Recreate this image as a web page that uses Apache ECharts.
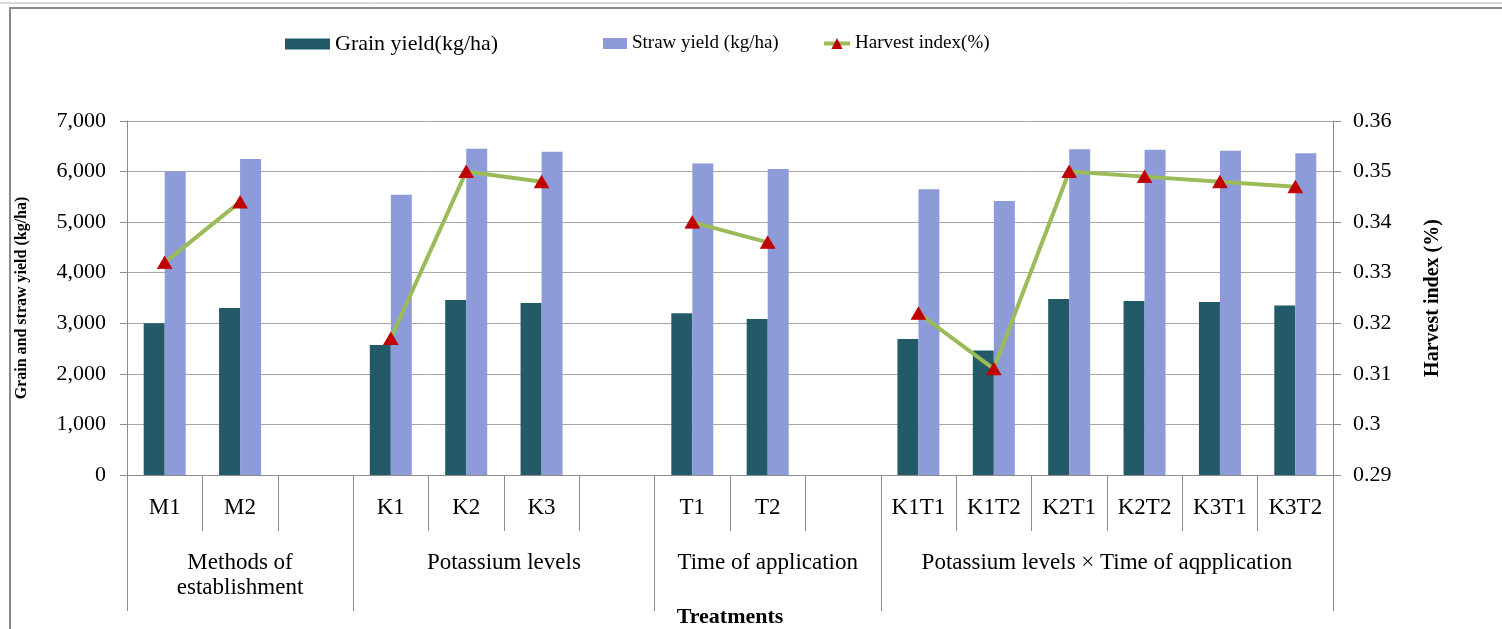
<!DOCTYPE html>
<html>
<head>
<meta charset="utf-8">
<script src="https://cdn.jsdelivr.net/npm/echarts@6/dist/echarts.min.js"></script>
<style>
html,body{margin:0;padding:0;background:#fff;}
#chart{width:1502px;height:629px;}
</style>
</head>
<body>
<div id="chart"></div>
<script>
// ---- data ----
const categories = ['M1','M2','','K1','K2','K3','','T1','T2','','K1T1','K1T2','K2T1','K2T2','K3T1','K3T2'];
const grainYield = [3000,3300,null,2570,3460,3400,null,3200,3085,null,2690,2460,3480,3440,3420,3350];
const strawYield = [6000,6250,null,5540,6450,6390,null,6160,6050,null,5650,5420,6440,6430,6410,6360];
const harvestIndex = [0.332,0.344,null,0.317,0.350,0.348,null,0.340,0.336,null,0.322,0.311,0.350,0.349,0.348,0.347];
const groupNames = ['Methods of\nestablishment','Potassium levels','Time of application','Potassium levels × Time of aqpplication'];
const groupSizes = [3,4,3,6];
const leftTicks = ['0','1,000','2,000','3,000','4,000','5,000','6,000','7,000'];
const rightTicks = ['0.29','0.3','0.31','0.32','0.33','0.34','0.35','0.36'];

// build the group axis (half-category resolution, boundaryGap false), unique keys
const groupAxisData = [];
const groupTickIdx = [0];
const groupLabelIdx = [];
const groupLabelMap = {};
{
  let start = 0;
  groupSizes.forEach((s, k) => {
    const c = 2 * start + s; // group centre in half-category units
    groupLabelIdx.push(c);
    groupLabelMap[c] = groupNames[k];
    start += s;
    groupTickIdx.push(start * 2);
  });
  for (let i = 0; i <= categories.length * 2; i++) groupAxisData.push('g' + i);
}
// unique keys for main category axis (blank slots)
const catKeys = categories.map((c, i) => c === '' ? ('blank' + i) : c);

const FONT = '"Liberation Serif", "Times New Roman", serif';
const AXIS_COLOR = '#8c8c8c';

const chart = echarts.init(document.getElementById('chart'), null, {renderer: 'canvas'});
chart.setOption({
  backgroundColor: '#fff',
  animation: false,
  textStyle: {fontFamily: FONT, color: '#000'},
  graphic: [
    {type: 'line', shape: {x1: 0, y1: 3, x2: 1502, y2: 3}, style: {stroke: '#b5b5b5', lineWidth: 1}, silent: true},
    {type: 'rect', shape: {x: 10, y: 8, width: 1600, height: 700}, style: {fill: null, stroke: '#8a8a8a', lineWidth: 2}, silent: true}
  ],
  legend: [
    {data: [{name: 'Grain yield(kg/ha)', icon: 'rect'}], left: 280, top: 28, itemWidth: 45, itemHeight: 11, itemGap: 6,
     textStyle: {fontFamily: FONT, fontSize: 22, color: '#000'}},
    {data: [{name: 'Straw yield (kg/ha)', icon: 'rect'}], left: 598, top: 29, itemWidth: 24, itemHeight: 11, itemGap: 3,
     textStyle: {fontFamily: FONT, fontSize: 19, color: '#000'}},
    {data: ['Harvest index(%)'], left: 817, top: 29, itemWidth: 26, itemHeight: 14, itemGap: 2,
     lineStyle: {width: 4},
     textStyle: {fontFamily: FONT, fontSize: 19, color: '#000'}}
  ],
  grid: {left: 127, right: 169, top: 121, bottom: 154, containLabel: false, outerBoundsMode: 'none'},
  xAxis: [
    {
      type: 'category', data: catKeys, position: 'bottom',
      axisLine: {show: true, lineStyle: {color: AXIS_COLOR, width: 1}},
      axisTick: {show: true, length: 56, lineStyle: {color: AXIS_COLOR}},
      axisLabel: {fontFamily: FONT, fontSize: 23, color: '#000', margin: 21, interval: 0,
                  formatter: (v, i) => categories[i]}
    },
    {
      type: 'category', data: groupAxisData, position: 'bottom', boundaryGap: false,
      axisLine: {show: false},
      axisTick: {show: true, length: 136, lineStyle: {color: AXIS_COLOR},
                 interval: (i) => groupTickIdx.indexOf(i) >= 0},
      axisLabel: {fontFamily: FONT, fontSize: 23, color: '#000', margin: 75, lineHeight: 25,
                  verticalAlign: 'top', align: 'center',
                  interval: (i) => groupLabelIdx.indexOf(i) >= 0,
                  formatter: (v, i) => groupLabelMap[i] || ''},
      name: 'Treatments', nameLocation: 'middle', nameGap: 131,
      nameTextStyle: {fontFamily: FONT, fontSize: 22, fontWeight: 'bold', color: '#000', verticalAlign: 'top'}
    }
  ],
  yAxis: [
    {
      type: 'value', min: 0, max: 7000, interval: 1000, position: 'left',
      name: 'Grain and straw yield (kg/ha)', nameLocation: 'middle', nameGap: 97, nameRotate: 90,
      nameTextStyle: {fontFamily: FONT, fontSize: 16, fontWeight: 'bold', color: '#000'},
      axisLine: {show: true, lineStyle: {color: AXIS_COLOR}},
      axisTick: {show: true, length: 7, lineStyle: {color: AXIS_COLOR}},
      axisLabel: {fontFamily: FONT, fontSize: 22, color: '#000', margin: 21,
                  formatter: (v) => leftTicks[Math.round(v / 1000)]},
      splitLine: {show: true, lineStyle: {color: '#a6a6a6', width: 1}}
    },
    {
      type: 'value', min: 0.29, max: 0.36, interval: 0.01, position: 'right',
      name: 'Harvest index (%)', nameLocation: 'middle', nameGap: 90, nameRotate: 90,
      nameTextStyle: {fontFamily: FONT, fontSize: 20, fontWeight: 'bold', color: '#000'},
      axisLine: {show: true, lineStyle: {color: AXIS_COLOR}},
      axisTick: {show: true, length: 8, lineStyle: {color: AXIS_COLOR}},
      axisLabel: {fontFamily: FONT, fontSize: 22, color: '#000', margin: 20,
                  formatter: (v) => rightTicks[Math.round((v - 0.29) / 0.01)]},
      splitLine: {show: false}
    }
  ],
  series: [
    {name: 'Grain yield(kg/ha)', type: 'bar', data: grainYield, xAxisIndex: 0, yAxisIndex: 0,
     barWidth: 21, barGap: '0%', itemStyle: {color: '#235a68'}},
    {name: 'Straw yield (kg/ha)', type: 'bar', data: strawYield, xAxisIndex: 0, yAxisIndex: 0,
     barWidth: 21, barGap: '0%', itemStyle: {color: '#8e9bd9'}},
    {name: 'Harvest index(%)', type: 'line', data: harvestIndex, xAxisIndex: 0, yAxisIndex: 1,
     connectNulls: false, symbol: 'triangle', symbolSize: [14, 12], showAllSymbol: true,
     lineStyle: {color: '#9bbb59', width: 4},
     itemStyle: {color: '#c00000', borderColor: '#c00000'}, z: 5}
  ]
});
</script>
</body>
</html>
